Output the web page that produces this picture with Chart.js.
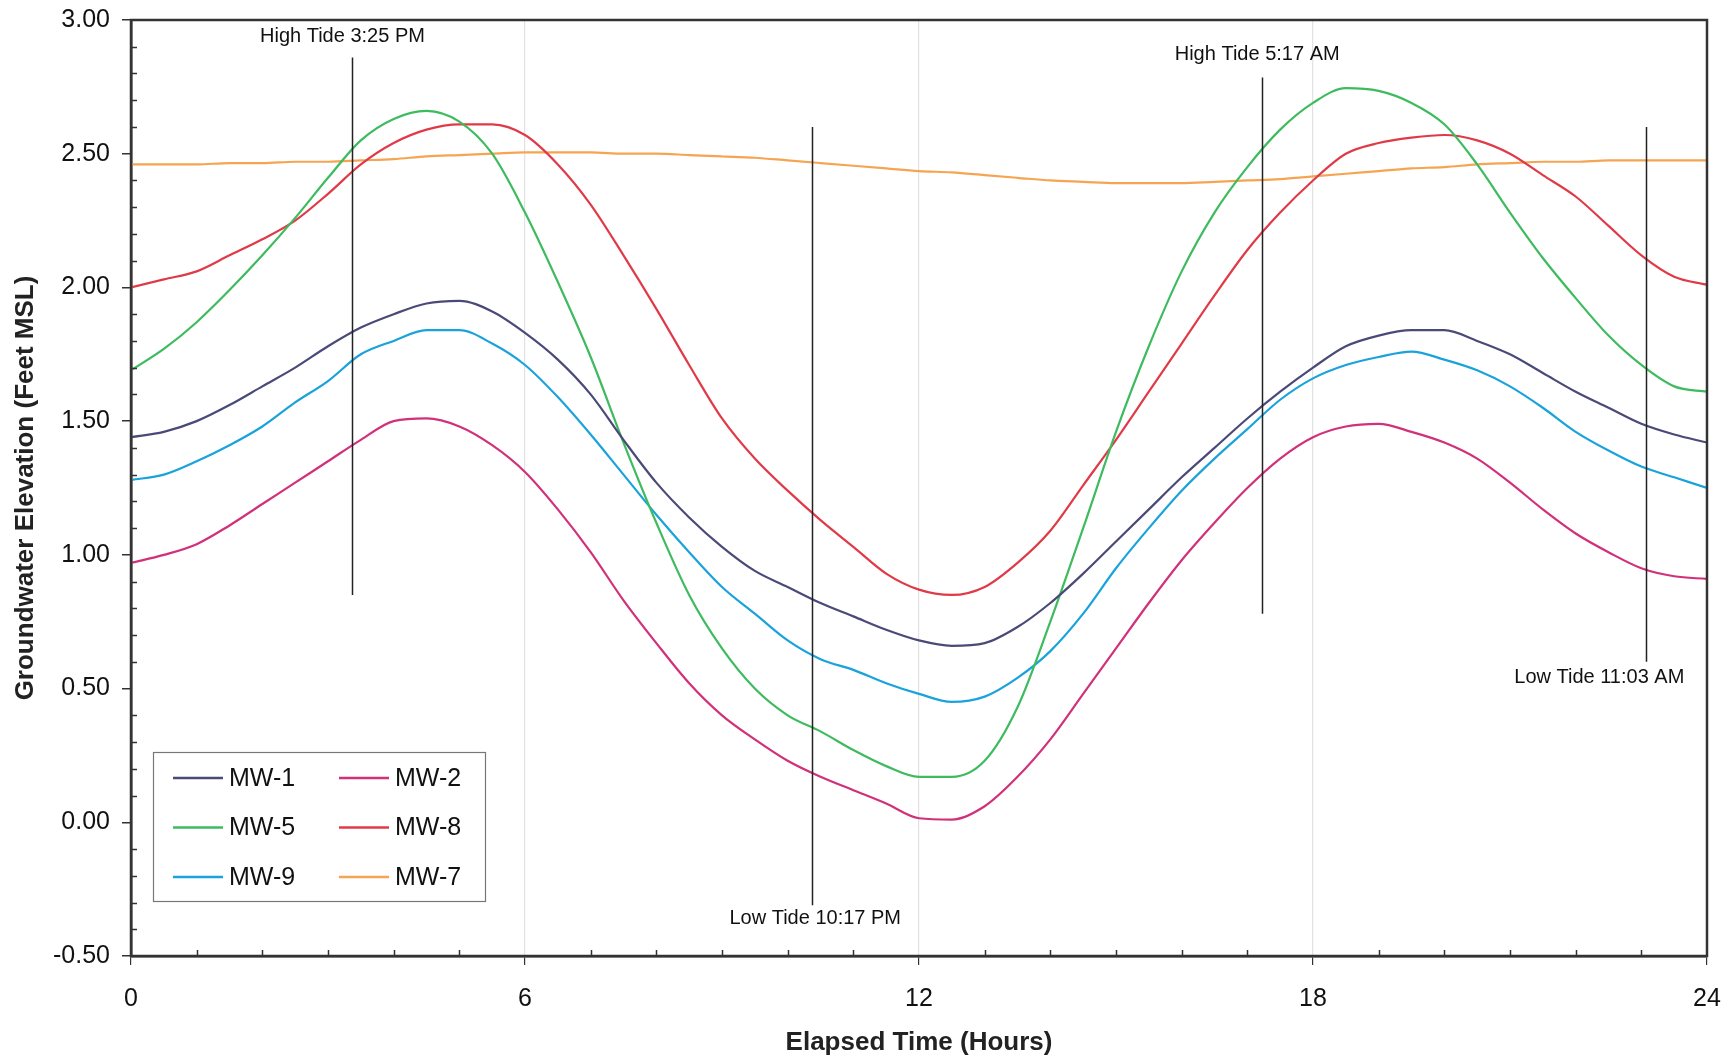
<!DOCTYPE html>
<html><head><meta charset="utf-8">
<script src="https://cdn.jsdelivr.net/npm/chart.js@4.4.1/dist/chart.umd.min.js"></script>
<style>html,body{margin:0;padding:0;background:#fff;}#wrap{width:1733px;height:1061px;}</style>
</head><body><div id="wrap"><canvas id="c" width="1733" height="1061"></canvas></div>
<script>
// ---- data ----
const hours = [0,0.5,1,1.5,2,2.5,3,3.5,4,4.5,5,5.5,6,6.5,7,7.5,8,8.5,9,9.5,10,10.5,11,11.5,12,12.5,13,13.5,14,14.5,15,15.5,16,16.5,17,17.5,18,18.5,19,19.5,20,20.5,21,21.5,22,22.5,23,23.5,24];
const mw1 = [1.44,1.46,1.50,1.56,1.63,1.70,1.78,1.85,1.90,1.94,1.95,1.91,1.83,1.73,1.60,1.43,1.27,1.14,1.03,0.94,0.88,0.82,0.77,0.72,0.68,0.66,0.67,0.73,0.82,0.93,1.05,1.17,1.29,1.40,1.51,1.61,1.70,1.78,1.82,1.84,1.84,1.80,1.75,1.68,1.61,1.55,1.49,1.45,1.42];
const mw2 = [0.97,1.00,1.04,1.11,1.19,1.27,1.35,1.43,1.50,1.51,1.48,1.41,1.31,1.17,1.01,0.83,0.67,0.52,0.40,0.31,0.23,0.17,0.12,0.07,0.015,0.01,0.06,0.17,0.31,0.48,0.65,0.82,0.98,1.12,1.25,1.36,1.44,1.48,1.49,1.46,1.42,1.36,1.27,1.17,1.08,1.01,0.95,0.92,0.91];
const mw5 = [1.69,1.77,1.87,1.99,2.12,2.26,2.41,2.55,2.63,2.66,2.62,2.50,2.28,2.02,1.74,1.42,1.12,0.85,0.65,0.50,0.40,0.34,0.27,0.21,0.17,0.17,0.23,0.43,0.75,1.10,1.46,1.78,2.06,2.28,2.45,2.59,2.69,2.745,2.735,2.69,2.61,2.46,2.28,2.11,1.96,1.82,1.71,1.63,1.61];
const mw8 = [2.00,2.03,2.06,2.12,2.18,2.25,2.35,2.46,2.54,2.59,2.61,2.61,2.57,2.46,2.31,2.12,1.92,1.71,1.51,1.36,1.24,1.13,1.03,0.93,0.87,0.85,0.88,0.97,1.09,1.26,1.43,1.61,1.79,1.97,2.14,2.28,2.40,2.50,2.54,2.56,2.57,2.55,2.50,2.42,2.34,2.23,2.12,2.04,2.01];
const mw9 = [1.28,1.30,1.35,1.41,1.48,1.57,1.65,1.75,1.80,1.84,1.84,1.79,1.71,1.59,1.45,1.30,1.15,1.01,0.88,0.78,0.68,0.61,0.57,0.52,0.48,0.45,0.47,0.54,0.64,0.78,0.95,1.10,1.24,1.36,1.47,1.58,1.66,1.71,1.74,1.76,1.73,1.69,1.63,1.55,1.46,1.39,1.33,1.29,1.25];
const mw7 = [2.46,2.46,2.46,2.465,2.465,2.47,2.47,2.475,2.48,2.49,2.495,2.50,2.505,2.505,2.505,2.50,2.50,2.495,2.49,2.485,2.475,2.465,2.455,2.445,2.435,2.43,2.42,2.41,2.40,2.395,2.39,2.39,2.39,2.395,2.40,2.405,2.415,2.425,2.435,2.445,2.45,2.46,2.465,2.47,2.47,2.475,2.475,2.475,2.475];
const seriesNames = ['MW-1','MW-2','MW-5','MW-8','MW-9','MW-7'];
const seriesValues = [mw1, mw2, mw5, mw8, mw9, mw7];
const xTickLabels = ['0','6','12','18','24'];
const tideTimes = [3.37, 10.37, 17.22, 23.07];
const tideLabels = ['High Tide 3:25 PM','Low Tide 10:17 PM','High Tide 5:17 AM','Low Tide 11:03 AM'];

// ---- layout / style ----
const seriesColors = ['#4A4A78','#D1307A','#3DBB5E','#E03A48','#1AA3DB','#F5A552'];
const tideLayout = [
  {top:2.86, bottom:0.85, lx:3.22, ly:2.94},
  {top:2.60, bottom:-0.31, lx:10.42, ly:-0.36},
  {top:2.785, bottom:0.78, lx:17.15, ly:2.87},
  {top:2.60, bottom:0.60, lx:22.36, ly:0.54}
];
const FONT = "'Liberation Sans', Arial, sans-serif";

const datasets = seriesNames.map((n,i)=>({
  label:n,
  data: hours.map((h,j)=>({x:h, y:seriesValues[i][j]})),
  borderColor: seriesColors[i],
  backgroundColor: seriesColors[i],
  borderWidth: 2.2,
  pointRadius: 0,
  tension: 0.4,
  cubicInterpolationMode: 'monotone',
  fill:false
}));

const decor = {
  id:'decor',
  afterDatasetsDraw(chart){
    const {ctx, chartArea:a, scales:{x,y}} = chart;
    ctx.save();
    // tide lines
    ctx.strokeStyle = '#222'; ctx.lineWidth = 1.5;
    tideTimes.forEach((t,i)=>{
      const L = tideLayout[i];
      const px = Math.round(x.getPixelForValue(t))+0.5;
      ctx.beginPath(); ctx.moveTo(px, y.getPixelForValue(L.top)); ctx.lineTo(px, y.getPixelForValue(L.bottom)); ctx.stroke();
    });
    ctx.fillStyle = '#111'; ctx.font = '20px ' + FONT; ctx.textAlign='center'; ctx.textBaseline='middle';
    tideTimes.forEach((t,i)=>{
      const L = tideLayout[i];
      ctx.fillText(tideLabels[i], x.getPixelForValue(L.lx), y.getPixelForValue(L.ly));
    });
    // minor ticks
    ctx.strokeStyle = '#333'; ctx.lineWidth = 1.5;
    for (let k = Math.round(y.min*10); k <= Math.round(y.max*10); k++) {
      if (k % 5 === 0) continue;
      const py = Math.round(y.getPixelForValue(k/10))+0.5;
      ctx.beginPath(); ctx.moveTo(a.left, py); ctx.lineTo(a.left+6, py); ctx.stroke();
    }
    for (let h = x.min; h <= x.max; h++) {
      if (h % 6 === 0) continue;
      const px = Math.round(x.getPixelForValue(h))+0.5;
      ctx.beginPath(); ctx.moveTo(px, a.bottom); ctx.lineTo(px, a.bottom-6); ctx.stroke();
    }
    // frame
    ctx.strokeStyle = '#333'; ctx.lineWidth = 2.5;
    ctx.strokeRect(a.left, a.top, a.right-a.left, a.bottom-a.top);
    // legend
    const bx = a.left + 22, bw = 332, bh = 149, by = a.bottom - 55 - bh;
    ctx.fillStyle = '#fff'; ctx.fillRect(bx, by, bw, bh);
    ctx.strokeStyle = '#777'; ctx.lineWidth = 1.2; ctx.strokeRect(bx+0.5, by+0.5, bw, bh);
    ctx.font = '25px ' + FONT; ctx.textAlign='left'; ctx.textBaseline='middle';
    chart.data.datasets.forEach((ds,i)=>{
      const col = i % 2, row = Math.floor(i/2);
      const lx = bx + 20 + col*166;
      const ly = by + 26 + row*49.5;
      ctx.strokeStyle = ds.borderColor; ctx.lineWidth = 2.5;
      ctx.beginPath(); ctx.moveTo(lx, ly); ctx.lineTo(lx+50, ly); ctx.stroke();
      ctx.fillStyle = '#111';
      ctx.fillText(ds.label, lx+56, ly+1);
    });
    ctx.restore();
  }
};

new Chart(document.getElementById('c'), {
  type:'line',
  data:{datasets},
  options:{
    responsive:false,
    animation:false,
    layout:{padding:{top:20, right:26, left:0, bottom:0}},
    plugins:{legend:{display:false}, tooltip:{enabled:false}},
    scales:{
      x:{
        type:'linear', min:0, max:24,
        afterFit(s){ s.height = 105; s.paddingLeft = 0; s.paddingRight = 0; },
        afterBuildTicks(s){ s.ticks = xTickLabels.map(v=>({value:Number(v)})); },
        ticks:{font:{family:FONT, size:25}, color:'#111', padding:19, maxRotation:0,
               callback:(v)=>String(v)},
        grid:{color:(c)=> (c.tick && (c.tick.value===0||c.tick.value===24)) ? 'rgba(0,0,0,0)' : '#e2e2e2',
              tickColor:'#333', tickLength:9, lineWidth:1.2},
        border:{display:true, color:'#333', width:2.5},
        title:{display:true, text:'Elapsed Time (Hours)', font:{family:FONT, size:26, weight:'bold'}, color:'#222', padding:{top:0,bottom:3}}
      },
      y:{
        min:-0.5, max:3, 
        afterFit(s){ s.width = 131; s.paddingTop = 0; s.paddingBottom = 0; },
        ticks:{stepSize:0.5, font:{family:FONT, size:25}, color:'#111', padding:12,
               callback:(v)=>Number(v).toFixed(2)},
        grid:{drawOnChartArea:false, tickColor:'#333', tickLength:9, lineWidth:1.5},
        border:{display:true, color:'#333', width:2.5},
        title:{display:true, text:'Groundwater Elevation (Feet MSL)', font:{family:FONT, size:26, weight:'bold'}, color:'#222', padding:{top:10,bottom:0}}
      }
    }
  },
  plugins:[decor]
});
</script></body></html>
